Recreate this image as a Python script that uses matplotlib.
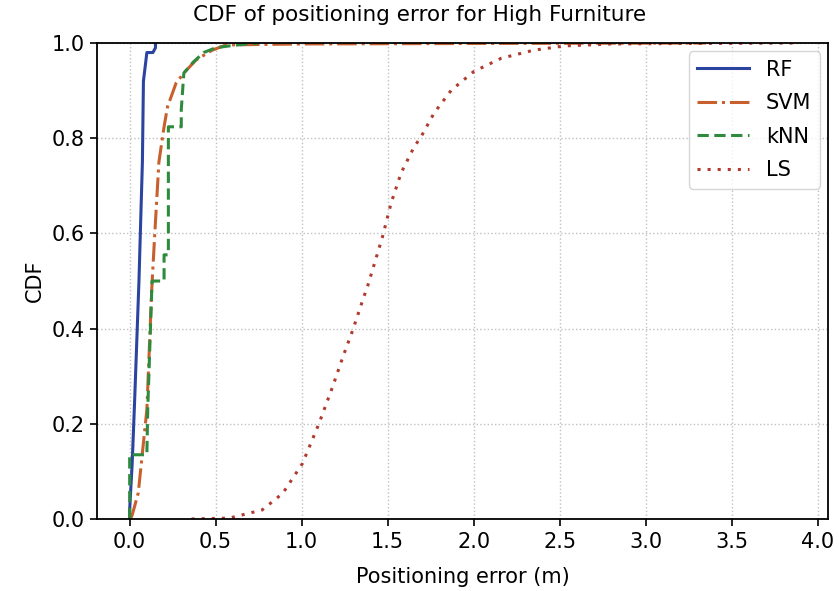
import numpy as np
import matplotlib
matplotlib.use("Agg")
import matplotlib.pyplot as plt

# CDF curves (x = positioning error in m, y = CDF)
rf_x = [0.0, 0.0, 0.015, 0.029, 0.054, 0.074, 0.08, 0.10, 0.135, 0.15, 0.15]
rf_y = [0.0, 0.02, 0.12, 0.25, 0.50, 0.75, 0.92, 0.98, 0.98, 0.99, 1.0]

svm_x = [0.005, 0.016, 0.05, 0.10, 0.128, 0.146, 0.17, 0.20, 0.22, 0.27, 0.315,
         0.385, 0.48, 0.56, 1.0, 2.0, 3.35]
svm_y = [0.0, 0.01, 0.055, 0.23, 0.48, 0.60, 0.75, 0.824, 0.866, 0.916, 0.937,
         0.964, 0.985, 0.996, 0.998, 0.999, 1.0]

knn_x = [0.0, 0.0, 0.10, 0.105, 0.13, 0.20, 0.20, 0.225, 0.225, 0.30, 0.30,
         0.315, 0.37, 0.43, 0.50, 0.60, 0.75]
knn_y = [0.0, 0.135, 0.135, 0.23, 0.50, 0.50, 0.555, 0.555, 0.824, 0.824, 0.86,
         0.937, 0.96, 0.98, 0.99, 0.995, 1.0]

ls_x = [0.36, 0.58, 0.77, 0.89, 1.005, 1.10, 1.18, 1.24, 1.297, 1.355, 1.384,
        1.47, 1.52, 1.578, 1.654, 1.694, 1.77, 1.87, 2.0, 2.16, 2.35, 2.53,
        2.8, 3.2, 3.87]
ls_y = [0.0, 0.002, 0.019, 0.054, 0.117, 0.20, 0.278, 0.341, 0.397, 0.46, 0.49,
        0.593, 0.664, 0.727, 0.782, 0.803, 0.853, 0.901, 0.94, 0.968, 0.985,
        0.994, 0.998, 0.999, 1.0]

plt.rcParams['font.size'] = 15
fig = plt.figure(figsize=(8.39, 5.91), dpi=100)
ax = fig.add_axes([0.1156, 0.1218, 0.8713, 0.8054])

lw = 2.2
ax.plot(rf_x, rf_y, color="#2a44a0", lw=lw, ls="-", label="RF")
ax.plot(svm_x, svm_y, color="#c8602e", lw=lw, ls="-.", label="SVM")
ax.plot(knn_x, knn_y, color="#2e8b3e", lw=lw, ls=(0, (3.7, 1.8)), label="kNN")
ax.plot(ls_x, ls_y, color="#b03a2e", lw=lw, ls=(0, (1, 2.3)), label="LS")

ax.set_ylim(0, 1)
ax.set_xlim(-0.19, 4.06)
ax.set_xticks(np.arange(0, 4.01, 0.5))
ax.grid(True, ls=":", color="#c0c0c0", lw=1.0)
ax.tick_params(length=5, width=1.2, pad=4)
for s in ax.spines.values():
    s.set_linewidth(1.3)
fig.suptitle("CDF of positioning error for High Furniture", fontsize=15.5,
             x=0.5, y=1 - 15 / 591, va="center")
ax.set_xlabel("Positioning error (m)", labelpad=11.5)
ax.set_ylabel("CDF", labelpad=4.5)
ax.legend(loc="upper right", handlelength=2.5, borderaxespad=0.4,
          labelspacing=0.65)

fig.savefig("out.png", dpi=100)
